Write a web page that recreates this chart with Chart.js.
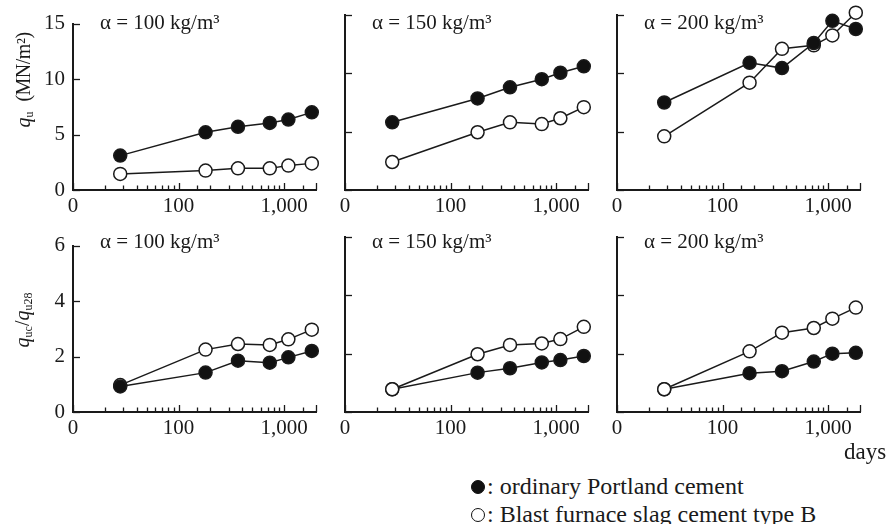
<!DOCTYPE html>
<html><head><meta charset="utf-8">
<script src="https://cdn.jsdelivr.net/npm/chart.js@4.4.1/dist/chart.umd.min.js"></script>
<style>
html,body{margin:0;padding:0;background:#fff;}
#wrap{position:relative;width:891px;height:524px;overflow:hidden;font-family:"Liberation Serif","Times New Roman",serif;color:#1a1a1a;}
#wrap canvas{position:absolute;}
.alpha{position:absolute;font-size:21px;white-space:nowrap;line-height:1;}
.ytitle{position:absolute;transform:translate(-50%,-50%) rotate(-90deg);white-space:nowrap;font-size:20px;line-height:1;}
.ytitle sub{font-size:12px;vertical-align:-3px;}
.txt{position:absolute;font-size:23px;white-space:nowrap;line-height:1;}
.leg{font-size:24px;}
.dot{display:inline-block;width:14px;height:14px;border-radius:50%;box-sizing:border-box;border:1.5px solid #111;vertical-align:0px;margin-right:2px;}
</style></head>
<body><div id="wrap"></div>
<script>
// ---- data ----
const days = [28, 180, 365, 730, 1095, 1825];
const alphaLabels = ['α = 100 kg/m³', 'α = 150 kg/m³', 'α = 200 kg/m³'];
const xTickValues = [10, 100, 1000];
const xTickLabels = ['0', '100', '1,000'];
const quTicks = [0, 5, 10, 15];
const ratioTicks = [0, 2, 4, 6];
const seriesNames = ['ordinary Portland cement', 'Blast furnace slag cement type B'];

// unconfined compressive strength q_u (MN/m2)
const qu_opc_100 = [3.1, 5.2, 5.7, 6.05, 6.35, 7.0];
const qu_bfs_100 = [1.45, 1.75, 1.95, 1.95, 2.2, 2.4];
const qu_opc_150 = [5.8, 7.85, 8.8, 9.5, 10.05, 10.6];
const qu_bfs_150 = [2.4, 4.95, 5.8, 5.65, 6.15, 7.1];
const qu_opc_200 = [7.5, 10.9, 10.45, 12.6, 14.5, 13.8];
const qu_bfs_200 = [4.6, 9.2, 12.1, 12.4, 13.25, 15.2];

// strength ratio q_uc / q_u28
const ratio_opc_100 = [0.92, 1.42, 1.85, 1.78, 1.97, 2.2];
const ratio_bfs_100 = [0.97, 2.25, 2.45, 2.42, 2.62, 2.97];
const ratio_opc_150 = [0.78, 1.35, 1.5, 1.7, 1.78, 1.92];
const ratio_bfs_150 = [0.78, 1.98, 2.3, 2.35, 2.5, 2.92];
const ratio_opc_200 = [0.78, 1.33, 1.4, 1.73, 2.0, 2.03];
const ratio_bfs_200 = [0.78, 2.08, 2.72, 2.88, 3.2, 3.58];

// ---- layout ----
const INK = '#1a1a1a';
const FONT = '"Liberation Serif", "Times New Roman", serif';
const colAxisX = [73, 345, 617];
const PLOT_W = 243, PLOT_H = 175;
const Y_W = 50, X_H = 34, PAD_T = 12, PAD_R = 14;
const rows = [
  { top: 15, ticks: quTicks, opc: [qu_opc_100, qu_opc_150, qu_opc_200], bfs: [qu_bfs_100, qu_bfs_150, qu_bfs_200], opcOnTop: [true, true, true], alphaTop: 12 },
  { top: 237, ticks: ratioTicks, opc: [ratio_opc_100, ratio_opc_150, ratio_opc_200], bfs: [ratio_bfs_100, ratio_bfs_150, ratio_bfs_200], opcOnTop: [true, false, false], alphaTop: 231 }
];

const inwardTicks = {
  id: 'inwardTicks',
  beforeDatasetsDraw(chart) {
    const ctx = chart.ctx, a = chart.chartArea;
    const xs = chart.scales.x, ys = chart.scales.y;
    ctx.save();
    ctx.strokeStyle = INK;
    ctx.lineWidth = 1.3;
    xs.ticks.forEach(t => {
      const px = Math.round(xs.getPixelForValue(t.value)) + 0.5;
      const lg = Math.log10(t.value);
      const big = Math.abs(lg - Math.round(lg)) < 1e-6 || t.value === xs.max;
      ctx.beginPath();
      ctx.moveTo(px, a.bottom);
      ctx.lineTo(px, a.bottom - (big ? 7 : 4.5));
      ctx.stroke();
    });
    ys.ticks.forEach(t => {
      const py = Math.round(ys.getPixelForValue(t.value)) + 0.5;
      ctx.beginPath();
      ctx.moveTo(a.left, py);
      ctx.lineTo(a.left + 7, py);
      ctx.stroke();
    });
    ctx.restore();
  }
};

const wrap = document.getElementById('wrap');

function addDiv(cls, html, left, top) {
  const d = document.createElement('div');
  d.className = cls;
  d.innerHTML = html;
  d.style.left = left + 'px';
  d.style.top = top + 'px';
  wrap.appendChild(d);
  return d;
}

rows.forEach((row, ri) => {
  const tickVals = row.ticks;
  for (let ci = 0; ci < 3; ci++) {
    const cv = document.createElement('canvas');
    const W = Y_W + PLOT_W + PAD_R, H = PAD_T + PLOT_H + X_H;
    cv.width = W; cv.height = H;
    cv.style.left = (colAxisX[ci] - Y_W) + 'px';
    cv.style.top = (row.top - PAD_T) + 'px';
    wrap.appendChild(cv);

    const opcPts = days.map((d, i) => ({ x: d, y: row.opc[ci][i] }));
    const bfsPts = days.map((d, i) => ({ x: d, y: row.bfs[ci][i] }));
    const opcTop = row.opcOnTop[ci];

    new Chart(cv, {
      type: 'line',
      data: {
        datasets: [
          { label: seriesNames[0], data: opcPts, order: opcTop ? 0 : 1,
            borderColor: INK, borderWidth: 1.5, pointRadius: 6.5, pointBorderWidth: 1.5,
            pointBackgroundColor: '#111', pointBorderColor: INK, clip: false, tension: 0 },
          { label: seriesNames[1], data: bfsPts, order: opcTop ? 1 : 0,
            borderColor: INK, borderWidth: 1.5, pointRadius: 6.5, pointBorderWidth: 1.5,
            pointBackgroundColor: '#fff', pointBorderColor: INK, clip: false, tension: 0 }
        ]
      },
      options: {
        responsive: false, animation: false, devicePixelRatio: 1,
        layout: { padding: { top: PAD_T, right: PAD_R, left: 0, bottom: 0 } },
        plugins: { legend: { display: false }, tooltip: { enabled: false }, title: { display: false } },
        scales: {
          x: {
            type: 'logarithmic', min: 10, max: 2000,
            grid: { display: false, drawTicks: false },
            border: { display: true, color: INK, width: 2 },
            ticks: {
              autoSkip: false, maxRotation: 0, padding: 4, color: INK,
              font: { family: FONT, size: 21 },
              callback: (v) => { const k = xTickValues.indexOf(v); return k >= 0 ? xTickLabels[k] : ''; }
            },
            afterFit: (s) => { s.height = X_H; }
          },
          y: {
            type: 'linear', min: tickVals[0], max: tickVals[tickVals.length - 1],
            grid: { display: false, drawTicks: false },
            border: { display: true, color: INK, width: 2 },
            ticks: {
              display: ci === 0, stepSize: tickVals[1] - tickVals[0], padding: 8, color: INK,
              font: { family: FONT, size: 21 }
            },
            afterFit: (s) => { s.width = Y_W; }
          }
        }
      },
      plugins: [inwardTicks]
    });

    addDiv('alpha', alphaLabels[ci], colAxisX[ci] + 27, row.alphaTop);
  }
});

addDiv('ytitle', '<i>q</i><sub>u</sub>&nbsp;&nbsp;<span style="letter-spacing:-0.5px">(MN/m²)</span>', 24, 80);
addDiv('ytitle', '<i>q</i><sub>uc</sub>/<i>q</i><sub>u28</sub>', 23, 320);
addDiv('txt', 'days', 844, 440);
addDiv('txt leg', '<span class="dot" style="background:#111"></span>: ' + seriesNames[0], 471, 474);
addDiv('txt leg', '<span class="dot" style="background:#fff"></span>: ' + seriesNames[1], 471, 502);
</script>
</body></html>
